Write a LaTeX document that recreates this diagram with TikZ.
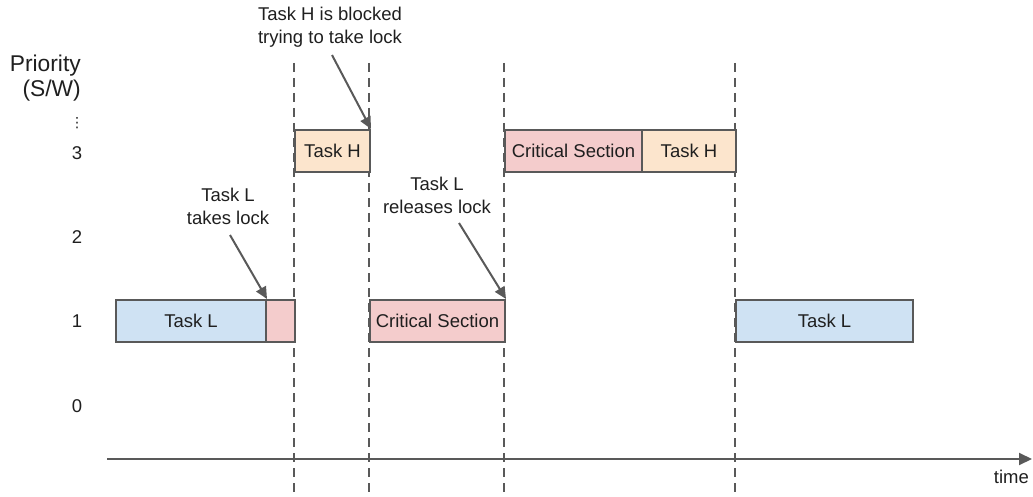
\documentclass[tikz,border=0pt]{standalone}
\usepackage{fontspec}
\setmainfont{Liberation Sans}
\newfontfamily\dvfont{DejaVu Sans}
\usetikzlibrary{arrows.meta}
\definecolor{edge}{HTML}{595959}
\definecolor{blueL}{HTML}{CFE2F3}
\definecolor{pinkC}{HTML}{F4CCCC}
\definecolor{orangeH}{HTML}{FCE5CD}
\definecolor{txt}{HTML}{1F1F1F}
\tikzset{
  box/.style={draw=edge, line width=2pt, inner sep=0pt, anchor=north west,
    minimum height=42pt, text=txt, font=\fontsize{18.5}{22}\selectfont},
  guide/.style={draw=edge, line width=2pt, dash pattern=on 9pt off 6pt},
  ann/.style={text=txt, align=center, font=\fontsize{18.5}{23}\selectfont, inner sep=0pt},
  lbl/.style={text=txt, font=\fontsize{18.5}{22}\selectfont, inner sep=0pt},
  pointer/.style={draw=edge, line width=2pt, -{Triangle[length=12pt,width=11pt]}},
  axis/.style={draw=edge, line width=2pt, -{Triangle[length=13pt,width=12pt]}}
}
\begin{document}
\begin{tikzpicture}[x=1pt,y=-1pt]
\useasboundingbox (0,0) rectangle (1033,497);
% guides
\foreach \gx/\gn in {294/a,369/b,504/c,735/d}{
  \coordinate (gt\gn) at (\gx,63);
  \coordinate (gb\gn) at (\gx,497);
  \draw[guide] (gt\gn) -- (gb\gn);
}
% axis
\coordinate (ax0) at (107,459);
\coordinate (ax1) at (1032,459);
\draw[axis] (ax0) -- (ax1);
\node[lbl, anchor=north east] (time) at (1029,470) {time};
% y labels
\node[lbl, anchor=base east, font=\fontsize{22.8}{26}\selectfont] (prio) at (81,72) {Priority};
\node[lbl, anchor=base east, font=\fontsize{22.8}{26}\selectfont] (sw) at (81,97) {(S/W)};
\node[lbl, font=\dvfont\fontsize{14}{14}\selectfont] (dots) at (77,123) {⋮};
\node[lbl] (p3) at (77,153) {3};
\node[lbl] (p2) at (77,237) {2};
\node[lbl] (p1) at (77,321) {1};
\node[lbl] (p0) at (77,406) {0};
% boxes
\node[box, fill=blueL, minimum width=150pt] (tl1) at (115,299) {Task L};
\node[box, fill=pinkC, minimum width=29pt] (cs0) at (265,299) {};
\node[box, fill=orangeH, minimum width=75pt] (th1) at (294,129) {Task H};
\node[box, fill=pinkC, minimum width=135pt] (cs1) at (369,299) {Critical Section};
\node[box, fill=pinkC, minimum width=137pt] (cs2) at (504,129) {Critical Section};
\node[box, fill=orangeH, minimum width=94pt] (th2) at (641,129) {Task H};
\node[box, fill=blueL, minimum width=177pt] (tl2) at (735,299) {Task L};
% annotations
\node[ann] (aH) at (330,27) {Task H is blocked\\trying to take lock};
\node[ann] (aT) at (228,206) {Task L\\takes lock};
\node[ann] (aR) at (437,195) {Task L\\releases lock};
\coordinate (sH) at (332,55);
\coordinate (sT) at (230,235);
\coordinate (sR) at (459,223);
\draw[pointer] (sH) -- (th1.north east);
\draw[pointer] (sT) -- (tl1.north east);
\draw[pointer] (sR) -- (cs1.north east);
\end{tikzpicture}
\end{document}
